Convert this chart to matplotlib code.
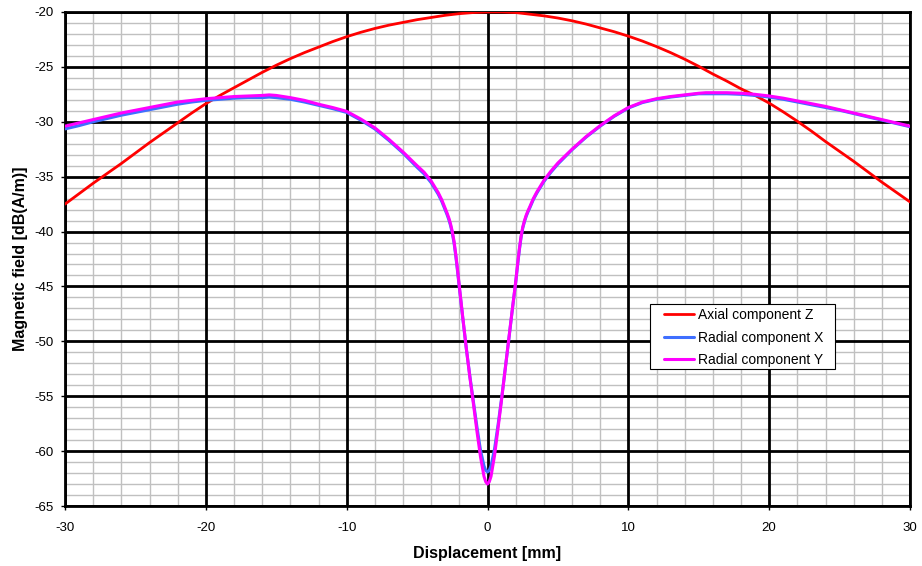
import matplotlib
matplotlib.use("Agg")
import matplotlib.pyplot as plt
from matplotlib.ticker import MultipleLocator
from matplotlib.patches import Rectangle

plt.rcParams['font.family'] = ['Liberation Sans', 'DejaVu Sans']
plt.rcParams['axes.unicode_minus'] = False

# Axial component Z
z_x = [-30, -29, -28, -27, -26, -25, -24, -23, -22, -21, -20, -19, -18, -17, -16, -15,
       -14, -13, -12, -11, -10, -9, -8, -7, -6, -5, -4, -3, -2, -1, 0,
       1, 2, 3, 4, 5, 6, 7, 8, 9, 10, 11, 12, 13, 14, 15, 16, 17, 18, 19, 20,
       21, 22, 23, 24, 25, 26, 27, 28, 29, 30]
z_y = [-37.5, -36.55, -35.6, -34.7, -33.8, -32.85, -31.9, -31.0, -30.1, -29.2, -28.35,
       -27.6, -26.9, -26.2, -25.5, -24.85, -24.25, -23.7, -23.2, -22.7, -22.25, -21.85,
       -21.5, -21.2, -20.95, -20.7, -20.5, -20.3, -20.15, -20.05, -20.0,
       -20.0, -20.05, -20.2, -20.35, -20.55, -20.8, -21.1, -21.45, -21.8, -22.2, -22.65,
       -23.15, -23.7, -24.3, -24.95, -25.65, -26.3, -27.0, -27.6, -28.3,
       -29.1, -29.95, -30.85, -31.8, -32.7, -33.6, -34.55, -35.5, -36.4, -37.3]

# Radial components X and Y
r_x = [-30, -29, -28, -27, -26, -25, -24, -23, -22, -21, -20, -19, -18, -17, -16, -15.5,
       -15, -14, -13, -12, -11, -10, -9, -8, -7, -6, -5, -4.5, -4, -3.5, -3.25, -3,
       -2.875, -2.75, -2.625, -2.5, -2.375, -2.25, -2.125, -2,
       -1.75, -1.5, -1.25, -1, -0.75, -0.5, -0.25, -0.125, 0,
       0.125, 0.25, 0.5, 0.75, 1, 1.25, 1.5, 1.75,
       2, 2.125, 2.25, 2.375, 2.5, 2.625, 2.75, 2.875, 3, 3.25, 3.5, 4, 4.5, 5,
       6, 7, 8, 9, 10, 11, 12, 13, 14, 15, 15.5, 16, 17, 18, 19, 20,
       21, 22, 23, 24, 25, 26, 27, 28, 29, 30]
x_y = [-30.65, -30.35, -30.0, -29.7, -29.4, -29.15, -28.9, -28.65, -28.4, -28.2, -28.05,
       -27.95, -27.85, -27.8, -27.8, -27.75,
       -27.8, -27.95, -28.2, -28.5, -28.8, -29.15, -29.85, -30.65, -31.7, -32.85, -34.15,
       -34.75, -35.55, -36.6, -37.25, -38.05,
       -38.45, -38.9, -39.45, -40.15, -41.05, -42.25, -43.65, -45.1,
       -47.95, -50.7, -53.2, -55.5, -57.8, -59.9, -61.35, -61.75, -61.9,
       -61.75, -61.35, -59.8, -57.6, -55.2, -52.6, -49.95, -47.25,
       -44.65, -43.2, -41.8, -40.6, -39.7, -39.1, -38.6, -38.2, -37.85, -37.1, -36.5,
       -35.45, -34.6, -33.85,
       -32.55, -31.4, -30.4, -29.5, -28.75, -28.25, -27.95, -27.75, -27.6, -27.45,
       -27.45, -27.45, -27.45, -27.5, -27.6, -27.75,
       -27.95, -28.2, -28.45, -28.7, -28.95, -29.25, -29.55, -29.85, -30.15, -30.45]
y_y = [-30.4, -30.1, -29.8, -29.5, -29.2, -28.95, -28.7, -28.45, -28.2, -28.05, -27.9,
       -27.8, -27.7, -27.65, -27.6, -27.55,
       -27.6, -27.8, -28.05, -28.4, -28.7, -29.05, -29.75, -30.55, -31.6, -32.75, -34.0,
       -34.6, -35.4, -36.45, -37.1, -37.9,
       -38.3, -38.75, -39.3, -40.0, -40.9, -42.1, -43.5, -45.0,
       -47.9, -50.7, -53.3, -55.7, -58.2, -60.5, -62.3, -62.8, -63.0,
       -62.8, -62.3, -60.4, -57.9, -55.3, -52.6, -49.9, -47.2,
       -44.6, -43.1, -41.7, -40.5, -39.6, -39.0, -38.5, -38.1, -37.75, -37.0, -36.4,
       -35.35, -34.5, -33.75,
       -32.5, -31.35, -30.35, -29.45, -28.7, -28.2, -27.9, -27.7, -27.55, -27.4,
       -27.35, -27.35, -27.35, -27.4, -27.5, -27.65,
       -27.85, -28.1, -28.35, -28.6, -28.9, -29.2, -29.5, -29.8, -30.1, -30.4]

labels = ["Axial component Z", "Radial component X", "Radial component Y"]

fig = plt.figure(figsize=(9.22, 5.66), dpi=100)
ax = fig.add_axes([0.0705, 0.106, 0.9165, 0.8728])

ax.plot(z_x, z_y, color="#ff0000", lw=2.0, label=labels[0], zorder=5,
        solid_joinstyle="round", solid_capstyle="round")
ax.plot(r_x, x_y, color="#3f6fff", lw=2.2, label=labels[1], zorder=6,
        solid_joinstyle="round", solid_capstyle="round")
ax.plot(r_x, y_y, color="#ff00ff", lw=2.2, label=labels[2], zorder=7,
        solid_joinstyle="round", solid_capstyle="round")

ax.set_xlim(-30, 30)
ax.set_ylim(-65, -20)
ax.xaxis.set_major_locator(MultipleLocator(10))
ax.yaxis.set_major_locator(MultipleLocator(5))
ax.xaxis.set_minor_locator(MultipleLocator(2))
ax.yaxis.set_minor_locator(MultipleLocator(1))
ax.grid(which="minor", color="#c0c0c0", lw=1.0, zorder=1)
ax.grid(which="major", visible=False)
# major grid drawn on top of the minor grid, at the axis' own major tick positions
for v in ax.xaxis.get_majorticklocs():
    ax.axvline(v, color="black", lw=2.0, zorder=2)
for v in ax.yaxis.get_majorticklocs():
    ax.axhline(v, color="black", lw=2.0, zorder=2)
ax.set_axisbelow(True)
ax.tick_params(which="minor", length=0)
ax.tick_params(which="major", length=3, width=1, direction="out", labelsize=9.5)
ax.tick_params(axis="x", pad=8.5)
ax.tick_params(axis="y", pad=5.5)
for s in ax.spines.values():
    s.set_color("black")
    s.set_linewidth(2.0)
    s.set_zorder(3)

ax.set_xlabel("Displacement [mm]", fontsize=11.5, fontweight="bold", labelpad=9)
ax.set_ylabel("Magnetic field [dB(A/m)]", fontsize=11.5, fontweight="bold", labelpad=4)

# legend frame (Excel style: wide side padding) and legend entries
frame = Rectangle((0.6923, 0.2773), 0.2189, 0.1316, transform=ax.transAxes,
                  facecolor="white", edgecolor="black", lw=0.8, zorder=9)
ax.add_patch(frame)
leg = ax.legend(loc="upper left", bbox_to_anchor=(0.709, 0.401), borderaxespad=0,
                fontsize=10, frameon=False, handlelength=2.16, handletextpad=0.29,
                labelspacing=0.62, borderpad=0)
leg.set_zorder(10)

fig.savefig("out.png", dpi=100, facecolor="white")
